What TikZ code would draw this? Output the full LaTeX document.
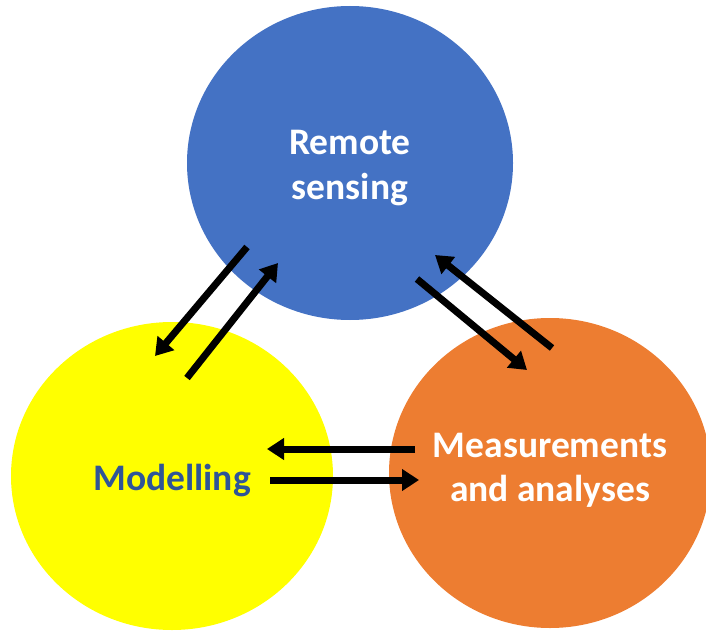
\documentclass[tikz,border=0pt]{standalone}
\usepackage{fontspec}
\setmainfont{Carlito}
\usetikzlibrary{shapes.geometric,arrows.meta}
\definecolor{rsblue}{HTML}{4472C4}
\definecolor{modyellow}{HTML}{FFFF00}
\definecolor{measorange}{HTML}{ED7D31}
\definecolor{modtext}{HTML}{2F5597}
\begin{document}
\begin{tikzpicture}[x=1pt,y=-1pt,
  blob/.style={ellipse, draw=none, inner sep=0pt},
  lbl/.style={font=\fontsize{37.5}{44}\selectfont\bfseries, align=center, inner sep=0pt, anchor=base},
  link/.style={line width=7pt, -{Triangle[length=17pt,width=21pt]}, black}]
\useasboundingbox (0,0) rectangle (706,631);
\node[blob, fill=rsblue, minimum width=326pt, minimum height=314pt] (rs) at (350,163) {};
\node[blob, fill=modyellow, minimum width=322pt, minimum height=308pt] (mod) at (172,476) {};
\node[blob, fill=measorange, minimum width=322pt, minimum height=310pt] (meas) at (550,473) {};
\node[lbl, text=white] (rstext) at (350,199) {Remote\\sensing};
\node[lbl, text=modtext] (modtext) at (172,490) {Modelling};
\node[lbl, text=white] (meastext) at (550,501) {Measurements\\and analyses};
% arrow end points
\coordinate (rsA) at (247,247);
\coordinate (modA) at (155,356);
\coordinate (modB) at (187,378);
\coordinate (rsB) at (278,263);
\coordinate (rsC) at (417,279);
\coordinate (measC) at (527,370);
\coordinate (measD) at (552,348);
\coordinate (rsD) at (435,255);
\coordinate (measE) at (415,449);
\coordinate (modE) at (267,449);
\coordinate (modF) at (270,480);
\coordinate (measF) at (419,480);
\draw[link] (rsA) -- (modA);
\draw[link] (modB) -- (rsB);
\draw[link] (rsC) -- (measC);
\draw[link] (measD) -- (rsD);
\draw[link] (measE) -- (modE);
\draw[link] (modF) -- (measF);
\end{tikzpicture}
\end{document}
